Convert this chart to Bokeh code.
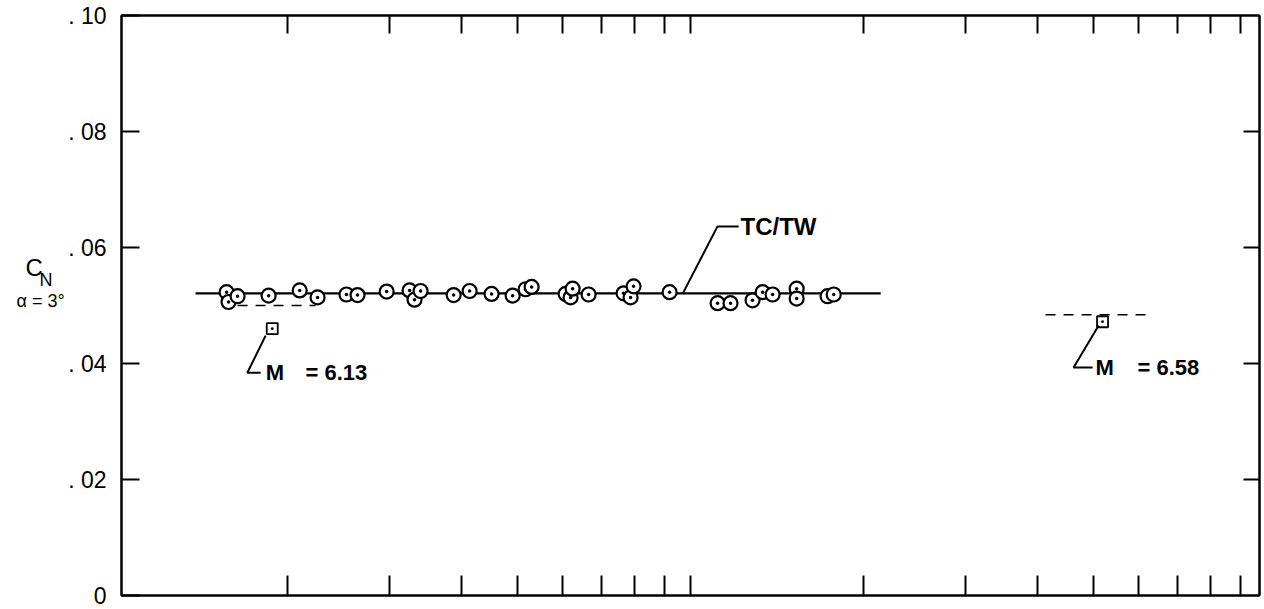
from bokeh.plotting import figure
from bokeh.layouts import row
from bokeh.models import Range1d, LinearAxis, LogAxis, FixedTicker, Label, CustomJSTickFormatter
from bokeh.core.properties import value
from bokeh.embed import file_html
from bokeh.resources import INLINE

# ---- data ----
tc_x = [1.565, 1.577, 1.635, 1.851, 2.096, 2.251, 2.527, 2.641, 2.967, 3.252,
        3.317, 3.398, 3.878, 4.134, 4.513, 4.910, 5.171, 5.297, 6.067, 6.190,
        6.240, 6.652, 7.650, 7.867, 7.962, 9.195, 11.14, 11.73, 12.81, 13.34,
        13.88, 15.28, 15.28, 17.29, 17.72]
tc_cn = [0.0523, 0.0506, 0.0516, 0.0517, 0.0526, 0.0514, 0.0519, 0.0518, 0.0524, 0.0526,
         0.0510, 0.0525, 0.0518, 0.0525, 0.0520, 0.0517, 0.0528, 0.0532, 0.0520, 0.0514,
         0.0529, 0.0519, 0.0521, 0.0514, 0.0533, 0.0523, 0.0504, 0.0504, 0.0509, 0.0523,
         0.0519, 0.0529, 0.0512, 0.0516, 0.0519]
fair_x = [1.382, 21.38]
fair_cn = [0.0521, 0.0521]

m613_x = [1.878]
m613_cn = [0.0460]
m613_ref_x = [1.635, 2.234]
m613_ref_cn = [0.0500, 0.0500]

m658_x = [51.9]
m658_cn = [0.0472]
m658_ref_x = [41.33, 62.88]
m658_ref_cn = [0.0484, 0.0484]

y_ticks = [0, 0.02, 0.04, 0.06, 0.08, 0.1]
y_tick_labels = ["0", ". 02", ". 04", ". 06", ". 08", ". 10"]
y_ticks_right = [0.02, 0.04, 0.06, 0.08]
x_ticks = [2, 3, 4, 5, 6, 7, 8, 9, 10, 20, 30, 40, 50, 60, 70, 80, 90]

# annotation anchors
tc_leader_x = [9.685, 11.13, 12.12]
tc_leader_y = [0.0520, 0.0636, 0.0636]
m613_leader_x = [1.829, 1.700, 1.793]
m613_leader_y = [0.0448, 0.0384, 0.0384]
m658_leader_x = [51.1, 46.23, 49.88]
m658_leader_y = [0.04655, 0.0393, 0.0393]

# y-axis title pieces (text, x px, y px from bottom, size)
ytitle_text = ["C", "N", "α = 3°"]
ytitle_x = [25, 39, 16]
ytitle_y = [344, 331, 309]
ytitle_size = ["24px", "18px", "18px"]

FONT = "Liberation Sans"
LEFT_W = 64

# ---------- narrow title panel on the left ----------
t = figure(width=LEFT_W, height=609, x_range=Range1d(0, LEFT_W), y_range=Range1d(0, 609),
           x_axis_location=None, y_axis_location=None,
           output_backend="svg", toolbar_location=None,
           min_border_left=0, min_border_right=0, min_border_top=0, min_border_bottom=0)
t.outline_line_color = None
t.grid.visible = False
t.background_fill_color = "white"
t.border_fill_color = "white"
for txt, x, y, s in zip(ytitle_text, ytitle_x, ytitle_y, ytitle_size):
    t.text(x=[x], y=[y], text=[txt], text_font=value(FONT), text_font_size=value(s),
           text_align="left", text_baseline="middle", text_color="black")

# ---------- main plot ----------
p = figure(width=1264 - LEFT_W, height=609, x_axis_type="log",
           x_range=Range1d(1.028, 97.2), y_range=Range1d(0, 0.10),
           x_axis_location=None, y_axis_location=None,
           output_backend="svg", toolbar_location=None,
           min_border_left=121 - LEFT_W, min_border_right=5,
           min_border_top=15, min_border_bottom=14)
p.outline_line_color = "black"
p.outline_line_width = 2
p.background_fill_color = "white"
p.border_fill_color = "white"

blank = CustomJSTickFormatter(code="return ''")


def style_axis(ax, tick_in, labels=False):
    ax.major_tick_in = tick_in
    ax.major_tick_out = 0
    ax.minor_tick_in = 0
    ax.minor_tick_out = 0
    ax.axis_line_width = 2
    ax.axis_line_color = "black"
    ax.major_tick_line_width = 2
    ax.major_tick_line_color = "black"
    if not labels:
        ax.formatter = blank
        ax.major_label_standoff = 0


left = LinearAxis(ticker=FixedTicker(ticks=y_ticks, minor_ticks=[]))
style_axis(left, 18, labels=True)
left.major_label_overrides = dict(zip(y_ticks, y_tick_labels))
left.major_label_standoff = 15
left.major_label_text_font = FONT
left.major_label_text_font_size = "23px"
left.major_label_text_color = "black"
p.add_layout(left, "left")

right = LinearAxis(ticker=FixedTicker(ticks=y_ticks_right, minor_ticks=[]))
style_axis(right, 16)
p.add_layout(right, "right")

bottom = LogAxis(ticker=FixedTicker(ticks=x_ticks, minor_ticks=[]))
style_axis(bottom, 20)
p.add_layout(bottom, "below")

top = LogAxis(ticker=FixedTicker(ticks=x_ticks, minor_ticks=[]))
style_axis(top, 18)
p.add_layout(top, "above")

p.grid.visible = False
for r in p.center:
    r.visible = False

# reference dashed lines
p.line(m613_ref_x, m613_ref_cn, line_color="black", line_width=1.5, line_dash="10 8")
p.line(m658_ref_x, m658_ref_cn, line_color="black", line_width=1.5, line_dash="10 8")

# fairing line and data
p.line(fair_x, fair_cn, line_color="black", line_width=2.2)
p.scatter(tc_x, tc_cn, marker="circle_dot", size=14, line_width=2.2,
          line_color="black", fill_color="white")
p.scatter(m613_x, m613_cn, marker="square_dot", size=11, line_width=1.8,
          line_color="black", fill_color="white")
p.scatter(m658_x, m658_cn, marker="square_dot", size=11, line_width=1.8,
          line_color="black", fill_color="white")

# leaders
for xs, ys in [(tc_leader_x, tc_leader_y), (m613_leader_x, m613_leader_y),
               (m658_leader_x, m658_leader_y)]:
    p.line(xs, ys, line_color="black", line_width=2)


def lab(x, y, text, size="22px", style="bold"):
    p.add_layout(Label(x=x, y=y, text=text, text_font=FONT, text_font_size=size,
                       text_font_style=style, text_align="left",
                       text_baseline="middle", text_color="black"))


lab(12.21, 0.0637, "TC/TW", size="24px")
lab(1.829, 0.0384, "M")
lab(2.145, 0.0384, "= 6.13")
lab(50.48, 0.0393, "M")
lab(59.7, 0.0393, "= 6.58")

layout = row(t, p, spacing=0)
open("out.html", "w").write(file_html(layout, INLINE))
